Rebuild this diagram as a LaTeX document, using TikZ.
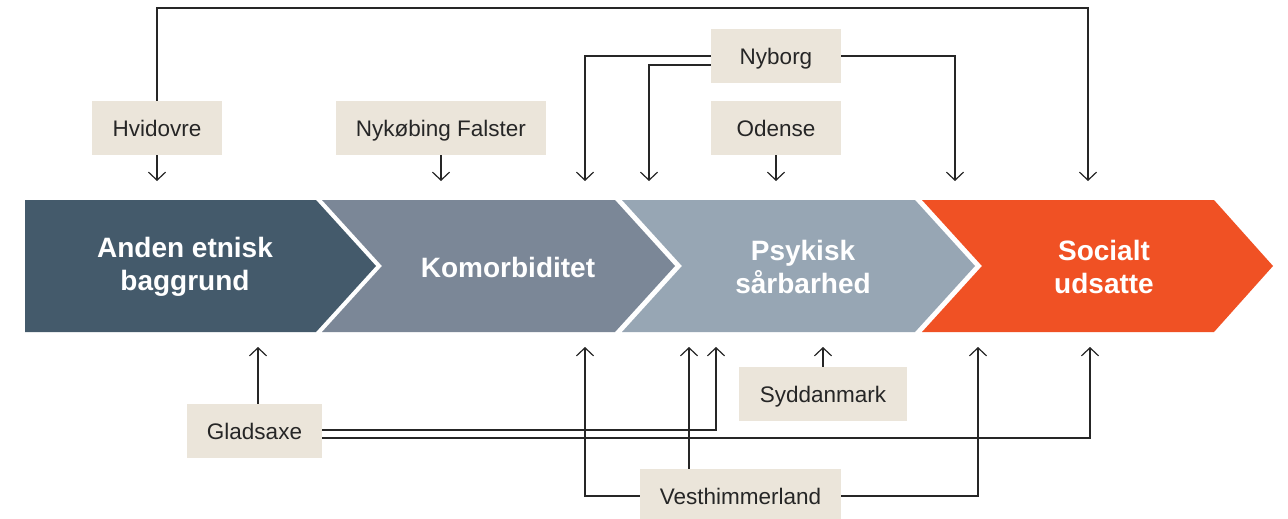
\documentclass[tikz,border=0pt]{standalone}
\usepackage{fontspec}
\setmainfont{Liberation Sans}
\usetikzlibrary{arrows.meta}
\definecolor{cA}{HTML}{445A6B}
\definecolor{cB}{HTML}{7B8797}
\definecolor{cC}{HTML}{97A6B4}
\definecolor{cD}{HTML}{F05124}
\definecolor{boxc}{HTML}{EBE5DA}
\definecolor{linec}{HTML}{262626}
\begin{document}
\begin{tikzpicture}[x=1pt,y=-1pt,
  lbl/.style={fill=boxc, text=linec, font=\fontsize{22.5}{27}\selectfont, minimum height=54pt, inner sep=0pt, text height=16pt, text depth=0pt},
  flow/.style={draw=linec, line width=1.2pt, -{Straight Barb[length=8pt,width=17pt,line width=1.2pt]}},
  ctext/.style={text=white, font=\bfseries\fontsize{28}{33}\selectfont, align=center, inner sep=0pt}]
\useasboundingbox[fill=white] (0,0) rectangle (1288,519);

% chevrons
\fill[cA] (25,200) -- (316,200) -- (376,266) -- (316,332) -- (25,332) -- cycle;
\fill[cB] (322,200) -- (615,200) -- (675,266) -- (615,332) -- (322,332) -- (382,266) -- cycle;
\fill[cC] (622,200) -- (915,200) -- (975,266) -- (915,332) -- (622,332) -- (682,266) -- cycle;
\fill[cD] (922,200) -- (1214,200) -- (1273,266) -- (1214,332) -- (922,332) -- (982,266) -- cycle;

\node[ctext] (t1) at (185,267) {Anden etnisk\\baggrund};
\node[ctext] (t2) at (508,267) {Komorbiditet};
\node[ctext] (t3) at (803,267) {Psykisk\\sårbarhed};
\node[ctext] (t4) at (1104,267) {Socialt\\udsatte};

% labels
\node[lbl, minimum width=130pt] (hv) at (157,128) {Hvidovre};
\node[lbl, minimum width=210pt] (nf) at (441,128) {Nykøbing Falster};
\node[lbl, minimum width=130pt] (nb) at (776,56) {Nyborg};
\node[lbl, minimum width=130pt] (od) at (776,128) {Odense};
\node[lbl, minimum width=135pt] (gl) at (254.5,431) {Gladsaxe};
\node[lbl, minimum width=168pt] (sd) at (823,394) {Syddanmark};
\node[lbl, minimum width=201pt] (vh) at (740.5,496) {Vesthimmerland};

% arrow end points
\coordinate (T) at (0,181);
\coordinate (B) at (0,347);
\coordinate (top) at (0,8);
\coordinate (hvE) at (1088,181);
\coordinate (nbA) at (585,181);
\coordinate (nbB) at (649,181);
\coordinate (nbC) at (955,181);
\coordinate (glA) at (716,347);
\coordinate (glB) at (1090,347);
\coordinate (vhA) at (585,347);
\coordinate (vhB) at (689,347);
\coordinate (vhC) at (978,347);

% top connectors
\draw[flow] (hv.north) -- (hv.north |- top) -| (hvE);
\draw[flow] (hv.south) -- (hv.south |- T);
\draw[flow] (nf.south) -- (nf.south |- T);
\draw[flow] (od.south) -- (od.south |- T);
\draw[flow] (nb.west) -| (nbA);
\draw[flow] ([yshift=-9pt]nb.west) -| (nbB);
\draw[flow] (nb.east) -| (nbC);

% bottom connectors
\draw[flow] ([xshift=3.5pt]gl.north) -- ([xshift=3.5pt]gl.north |- B);
\draw[flow] ([yshift=1pt]gl.east) -| (glA);
\draw[flow] ([yshift=-7pt]gl.east) -| (glB);
\draw[flow] (sd.north) -- (sd.north |- B);
\draw[flow] (vh.west) -| (vhA);
\draw[flow] (vh.north -| vhB) -- (vhB);
\draw[flow] (vh.east) -| (vhC);
\end{tikzpicture}
\end{document}
